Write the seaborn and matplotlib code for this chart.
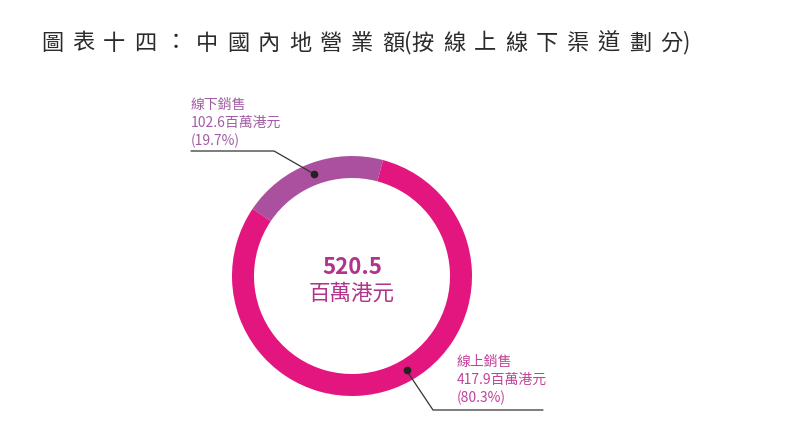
import numpy as np
import matplotlib
matplotlib.use("Agg")
import matplotlib.pyplot as plt
import seaborn as sns

# data
channels = ["線下銷售", "線上銷售"]
values = [102.6, 417.9]          # 百萬港元
shares = [19.7, 80.3]            # %
total = 520.5
title = "圖表十四：中國內地營業額(按線上線下渠道劃分)"

ring_colors = ["#ab4f9f", "#e3157f"]
label_colors = ["#a35ca6", "#c2429b"]

sns.set_theme(style="white")
plt.rcParams["font.family"] = ["Noto Sans CJK TC", "DejaVu Sans"]

W, H = 800, 433
fig = plt.figure(figsize=(W / 100, H / 100), dpi=100)
ax = fig.add_axes([0, 0, 1, 1])

# pixel coordinates (y measured from the bottom)
cx, cy, r, ring = 352, H - 276, 120, 22
start = 75

ax.pie(values, colors=sns.color_palette(ring_colors), startangle=start,
       counterclock=True, center=(cx, cy), radius=r,
       wedgeprops=dict(width=ring, linewidth=0))
ax.set_xlim(0, W)
ax.set_ylim(0, H)
ax.set_aspect("auto")
ax.axis("off")

# title, letter-spaced (parentheses are half width)
x = 52
prev_narrow = False
for i, ch in enumerate(title):
    narrow = ch in "()"
    if i > 0:
        x += 15 if (narrow or prev_narrow) else 31
    fig.text(x / W, 1 - 43 / H, ch, ha="center", va="center",
             fontsize=16, color="#2b2b2b")
    prev_narrow = narrow

# centre total
ax.text(cx, H - 267, f"{total}", ha="center", va="center", fontsize=16,
        fontweight="bold", color="#b2338b")
ax.text(cx, H - 294, "百萬港元", ha="center", va="center", fontsize=15.5,
        color="#b2338b")

# leader lines + labels
angles = np.cumsum([0] + values) / total * 360 + start
dot_angles = [(angles[0] + angles[1]) / 2, 300]
elbows = [(274, 151), (433, 410)]
ends = [191, 543]
text_pos = [(191, 98), (457, 355)]

for k in range(len(channels)):
    a = np.deg2rad(dot_angles[k])
    px = cx + (r - ring / 2) * np.cos(a)
    py = cy + (r - ring / 2) * np.sin(a)
    ex, ey = elbows[k]
    ax.plot([px, ex, ends[k]], [py, H - ey, H - ey], color="#333333", lw=0.9)
    ax.plot(px, py, "o", color="#222222", ms=4.5)
    tx, ty = text_pos[k]
    ax.text(tx, H - ty, f"{channels[k]}\n{values[k]}百萬港元\n({shares[k]}%)",
            ha="left", va="top", fontsize=10, linespacing=1.35,
            fontweight="medium", color=label_colors[k])

fig.savefig("out.png", dpi=100, facecolor="white")
